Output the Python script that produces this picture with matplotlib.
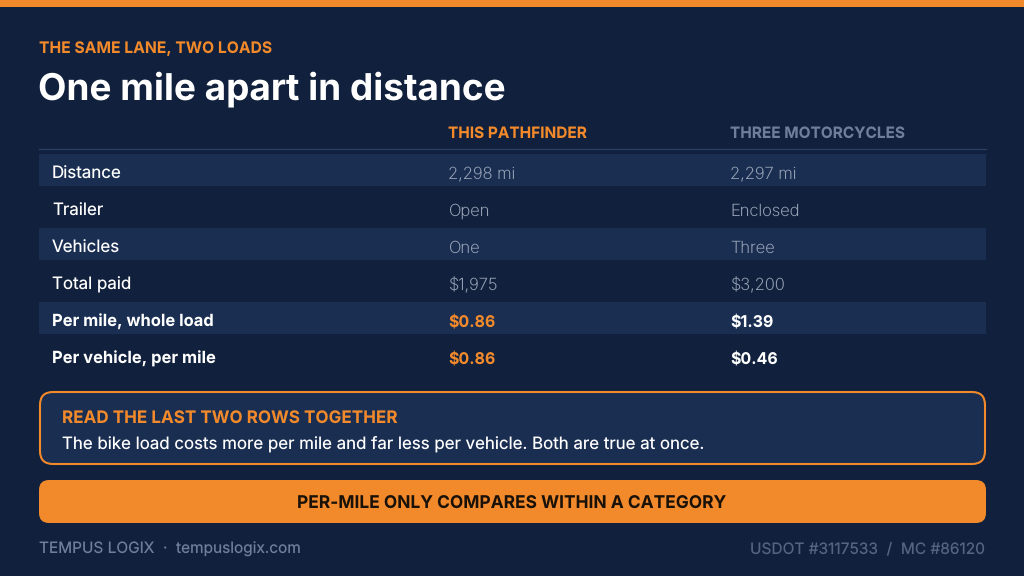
import matplotlib
matplotlib.use("Agg")
import matplotlib.pyplot as plt
from matplotlib.patches import FancyBboxPatch, Rectangle

NAVY = "#11203c"
BAND = "#1a2e52"
ORANGE = "#f28a2b"
WHITE = "#ffffff"
MUTED = "#96a1b4"
SLATE = "#6f7f9b"

columns = ["THIS PATHFINDER", "THREE MOTORCYCLES"]
row_labels = ["Distance", "Trailer", "Vehicles", "Total paid",
              "Per mile, whole load", "Per vehicle, per mile"]
pathfinder = ["2,298 mi", "Open", "One", "$1,975", "$0.86", "$0.86"]
motorcycles = ["2,297 mi", "Enclosed", "Three", "$3,200", "$1.39", "$0.46"]
bold_rows = [4, 5]

plt.rcParams["font.family"] = ["Inter", "DejaVu Sans"]
plt.rcParams["text.hinting"] = "none"
plt.rcParams["text.hinting_factor"] = 1


def label(ax, x, y, s, size, color, weight="normal", ha="left"):
    ax.text(x, y, s, fontsize=size, color=color, fontweight=weight,
            ha=ha, va="center_baseline")


def main():
    fig = plt.figure(figsize=(10.24, 5.76), dpi=100, facecolor=NAVY)
    ax = fig.add_axes([0, 0, 1, 1])
    ax.set_xlim(0, 1024)
    ax.set_ylim(576, 0)
    ax.axis("off")

    ax.add_patch(Rectangle((0, 0), 1024, 7, color=ORANGE, lw=0))

    label(ax, 39, 47.5, "THE SAME LANE, TWO LOADS", 11.3, ORANGE, "bold")
    label(ax, 38, 85.5, "One mile apart in distance", 26.6, WHITE, "bold")

    # table header
    label(ax, 448, 132, columns[0], 11.1, ORANGE, "bold")
    label(ax, 730, 132, columns[1], 11.1, SLATE, "bold")
    ax.plot([39, 986], [148.5, 148.5], color="#283f63", lw=1)

    # rows, every other one on a band
    for i, name in enumerate(row_labels):
        y = 172 + 37 * i
        if i % 2 == 0:
            ax.add_patch(Rectangle((39, y - 18), 947, 32, color=BAND, lw=0))
        if i in bold_rows:
            label(ax, 52, y + 0.5, name, 11.9, WHITE, "bold")
            label(ax, 448, y + 0.5, pathfinder[i], 11.5, ORANGE, "bold")
            label(ax, 730, y + 0.5, motorcycles[i], 11.5, WHITE, "bold")
        else:
            label(ax, 52, y + 0.5, name, 12.2, WHITE)
            label(ax, 448, y + 0.5, pathfinder[i], 11.9, MUTED, "light")
            label(ax, 730, y + 0.5, motorcycles[i], 11.9, MUTED, "light")

    # callout
    ax.add_patch(FancyBboxPatch((40, 392), 945, 72,
                                boxstyle="round,pad=0,rounding_size=13",
                                fc=BAND, ec=ORANGE, lw=1.5))
    label(ax, 62, 417, "READ THE LAST TWO ROWS TOGETHER", 12.3, ORANGE, "bold")
    label(ax, 62, 442.5, "The bike load costs more per mile and far less per "
          "vehicle. Both are true at once.", 12.15, WHITE)

    # takeaway bar
    ax.add_patch(FancyBboxPatch((39, 480), 947, 43,
                                boxstyle="round,pad=0,rounding_size=10",
                                fc=ORANGE, ec="none"))
    label(ax, 512, 501.5, "PER-MILE ONLY COMPARES WITHIN A CATEGORY", 12.5,
          "#1a1108", "bold", ha="center")

    # footer
    label(ax, 39, 547.5, "TEMPUS LOGIX  ·  tempuslogix.com", 11.1, SLATE)
    label(ax, 985, 547.5, "USDOT #3117533  /  MC #86120", 11.15, "#56647f", ha="right")

    fig.savefig("out.png", dpi=100, facecolor=NAVY)


if __name__ == "__main__":
    main()
